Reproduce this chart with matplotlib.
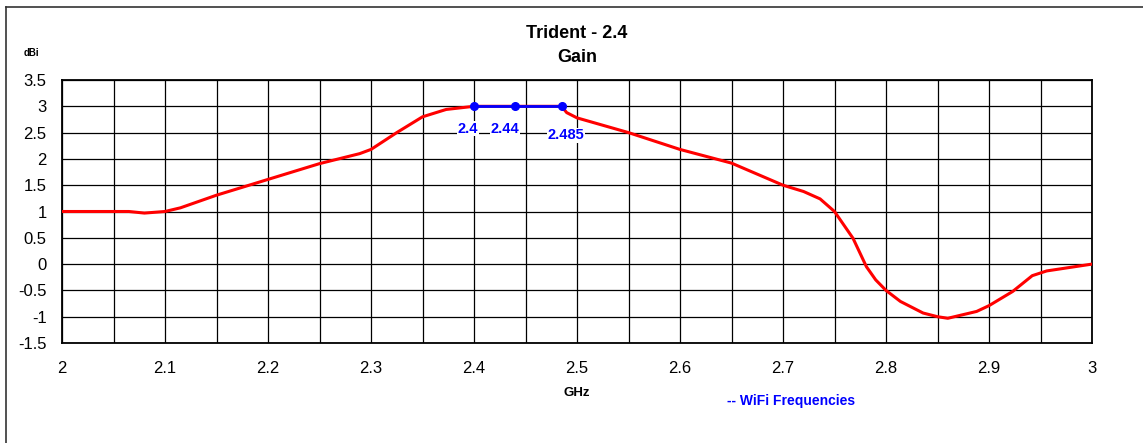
import matplotlib
matplotlib.use("Agg")
import matplotlib.pyplot as plt
from matplotlib.lines import Line2D
import numpy as np

# gain curve
freq = [2.0, 2.05, 2.065, 2.08, 2.1, 2.115, 2.15, 2.2, 2.25, 2.289, 2.3, 2.325,
        2.35, 2.373, 2.4, 2.44, 2.485, 2.49, 2.5, 2.55, 2.6, 2.65, 2.7,
        2.72, 2.736, 2.75, 2.768, 2.781, 2.79, 2.8, 2.814, 2.836, 2.85, 2.86, 2.888,
        2.9, 2.923, 2.942, 2.956, 3.0]
gain = [1.0, 1.0, 1.0, 0.97, 1.0, 1.07, 1.31, 1.61, 1.91, 2.1, 2.18, 2.5,
        2.8, 2.94, 3.0, 3.0, 3.0, 2.88, 2.78, 2.5, 2.18, 1.92, 1.5,
        1.38, 1.24, 1.0, 0.49, -0.05, -0.3, -0.5, -0.71, -0.93, -1.0, -1.03, -0.9,
        -0.79, -0.52, -0.22, -0.13, 0.0]

wifi_freq = [2.4, 2.44, 2.485]
wifi_gain = [3.0, 3.0, 3.0]
wifi_labels = ["2.4", "2.44", "2.485"]

x_ticks = [2.0, 2.1, 2.2, 2.3, 2.4, 2.5, 2.6, 2.7, 2.8, 2.9, 3.0]
x_ticklabels = ["2", "2.1", "2.2", "2.3", "2.4", "2.5", "2.6", "2.7", "2.8", "2.9", "3"]
y_ticks = [3.5, 3, 2.5, 2, 1.5, 1, 0.5, 0, -0.5, -1, -1.5]
y_ticklabels = ["3.5", "3", "2.5", "2", "1.5", "1", "0.5", "0", "-0.5", "-1", "-1.5"]

plt.rcParams['font.family'] = ['Liberation Sans', 'DejaVu Sans']

fig = plt.figure(figsize=(11.43, 4.43), dpi=100)
ax = fig.add_axes([62/1143, 1-343/443, (1092-62)/1143, (343-80)/443])

ax.plot(freq, gain, color="#ff0000", lw=2.2, zorder=3, solid_joinstyle="round")
ax.plot(wifi_freq, wifi_gain, color="#0000ff", lw=2.0, marker="o", ms=5.5, zorder=4)

offsets = [(-4.5, -16), (-7.5, -16), (3, -21)]
for f, g, lab, off in zip(wifi_freq, wifi_gain, wifi_labels, offsets):
    ax.annotate(lab, (f, g), xytext=off, textcoords="offset points",
                ha="center", va="center", color="#0000ff", fontsize=10.5,
                fontweight="bold", zorder=5,
                bbox=dict(facecolor="white", edgecolor="none", pad=0.5))

ax.set_xlim(2.0, 3.0)
ax.set_ylim(-1.5, 3.5)
ax.set_xticks(x_ticks)
ax.set_xticklabels(x_ticklabels)
ax.set_xticks(np.arange(2.05, 3.0, 0.1), minor=True)
ax.set_yticks(y_ticks)
ax.set_yticklabels(y_ticklabels)
ax.tick_params(which="both", length=0, labelsize=12)
ax.tick_params(axis="x", pad=13)
ax.tick_params(axis="y", pad=11)
ax.grid(which="both", color="black", lw=0.9)
for s in ax.spines.values():
    s.set_linewidth(1.3)

fig.text(577/1143, 1-33/443, "Trident - 2.4", ha="center", va="center",
         fontsize=13, fontweight="bold")
fig.text(577/1143, 1-57/443, "Gain", ha="center", va="center",
         fontsize=13, fontweight="bold")
fig.text(31/1143, 1-53/443, "dBi", ha="center", va="center",
         fontsize=7, fontweight="bold")
fig.text(577/1143, 1-393/443, "GHz", ha="center", va="center",
         fontsize=9.5, fontweight="bold")
fig.text(727/1143, 1-401/443, "-- WiFi Frequencies", ha="left", va="center",
         fontsize=10, fontweight="bold", color="#0000ff")

# outer frame (only top and left edges visible)
fig.add_artist(Line2D([6/1143, 6/1143], [0, 1-6.5/443], transform=fig.transFigure,
                      color="#333333", lw=1.2))
fig.add_artist(Line2D([6/1143, 1], [1-6.5/443, 1-6.5/443], transform=fig.transFigure,
                      color="#333333", lw=1.2))

fig.savefig("out.png", dpi=100)
